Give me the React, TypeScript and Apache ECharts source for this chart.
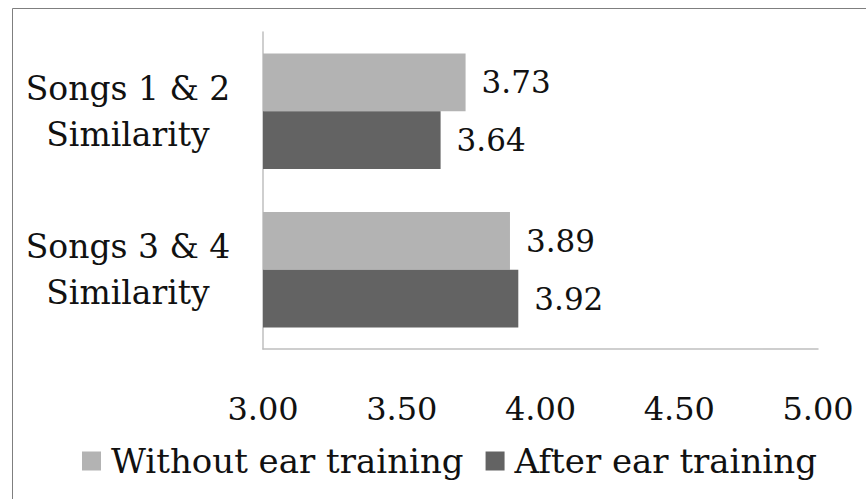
import React, { useEffect, useRef } from "react";
import * as echarts from "echarts";

const categories = ["Songs 1 & 2\nSimilarity", "Songs 3 & 4\nSimilarity"];
const seriesNames = ["Without ear training", "After ear training"];
const withoutTraining = [3.73, 3.89];
const afterTraining = [3.64, 3.92];
const colors = ["#b3b3b3", "#636363"];
const FONT = "DejaVu Serif";

export default function App() {
  const ref = useRef<HTMLDivElement>(null);
  useEffect(() => {
    if (!ref.current) return;
    const chart = echarts.init(ref.current, null, { renderer: "svg" });
    const labelStyle = {
      show: true,
      position: "right" as const,
      distance: 16,
      fontFamily: FONT,
      fontSize: 31,
      color: "#111",
      formatter: (p: any) => Number(p.value).toFixed(2),
    };
    chart.setOption({
      animation: false,
      backgroundColor: "#ffffff",
      graphic: [
        {
          type: "rect",
          shape: { x: 12.5, y: 8.5, width: 900, height: 600 },
          style: { fill: "none", stroke: "#7f7f7f", lineWidth: 1 },
          silent: true,
        },
      ],
      grid: { left: 263, right: 48, top: 32, bottom: 150, containLabel: false },
      legend: {
        data: seriesNames,
        left: 77,
        top: 439,
        itemWidth: 19,
        itemHeight: 19,
        itemGap: 22,
        icon: "rect",
        textStyle: { fontFamily: FONT, fontSize: 34, color: "#111", padding: [0, 0, 0, 5] },
      },
      xAxis: {
        type: "value",
        min: 3,
        max: 5,
        interval: 0.5,
        axisLine: { show: true, lineStyle: { color: "#bfbfbf", width: 1.5 } },
        axisTick: { show: false },
        splitLine: { show: false },
        axisLabel: {
          margin: 44,
          fontFamily: FONT,
          fontSize: 32,
          color: "#111",
          formatter: (v: number) => v.toFixed(2),
        },
      },
      yAxis: {
        type: "category",
        inverse: true,
        data: categories,
        axisLine: { show: true, lineStyle: { color: "#bfbfbf", width: 1.5 } },
        axisTick: { show: false },
        axisLabel: {
          margin: 135,
          align: "center",
          fontFamily: FONT,
          fontSize: 33,
          lineHeight: 46,
          color: "#111",
        },
      },
      series: [
        {
          name: seriesNames[0],
          type: "bar",
          data: withoutTraining,
          itemStyle: { color: colors[0] },
          barGap: "0%",
          barCategoryGap: "27%",
          label: labelStyle,
        },
        {
          name: seriesNames[1],
          type: "bar",
          data: afterTraining,
          itemStyle: { color: colors[1] },
          barGap: "0%",
          barCategoryGap: "27%",
          label: labelStyle,
        },
      ],
    });
    return () => chart.dispose();
  }, []);
  return (
    <div
      ref={ref}
      style={{ position: "fixed", left: 0, top: 0, width: 866, height: 499 }}
    />
  );
}
